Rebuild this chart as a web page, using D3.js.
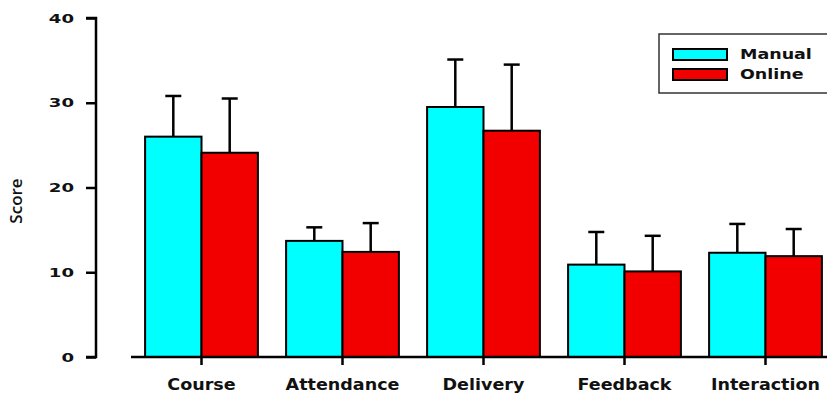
<!DOCTYPE html>
<html>
<head>
<meta charset="utf-8">
<script src="https://cdn.jsdelivr.net/npm/d3@7/dist/d3.min.js"></script>
<style>
  html, body { margin: 0; padding: 0; background: #fff; }
  svg { display: block; }
</style>
</head>
<body>
<svg id="chart" width="827" height="393"></svg>
<script>
// Mean scores and standard deviations per evaluation area
const categories = ["Course", "Attendance", "Delivery", "Feedback", "Interaction"];
const seriesNames = ["Manual", "Online"];
const manualMean = [26.0, 13.7, 29.5, 10.9, 12.3];
const manualSD   = [4.8, 1.6, 5.6, 3.85, 3.4];
const onlineMean = [24.1, 12.4, 26.7, 10.1, 11.9];
const onlineSD   = [6.4, 3.4, 7.8, 4.2, 3.2];
const yTicks = [0, 10, 20, 30, 40];
const colors = ["#00ffff", "#f20000"];

const svg = d3.select("#chart");
const tickFont = "'DejaVu Sans', Verdana, sans-serif";

const y = d3.scaleLinear().domain([0, 40]).range([357, 18]);
const x = d3.scaleBand().domain(categories).range([131, 836])
  .paddingInner(0.2).paddingOuter(0.1);
const xs = d3.scaleBand().domain(seriesNames).range([0, x.bandwidth()]);

const rows = categories.map((c, i) => ({
  cat: c,
  vals: [
    { s: "Manual", mean: manualMean[i], sd: manualSD[i] },
    { s: "Online", mean: onlineMean[i], sd: onlineSD[i] }
  ]
}));

// Y axis
const yAxis = svg.append("g").attr("transform", "translate(96,0)")
  .call(d3.axisLeft(y).tickValues(yTicks).tickSize(10).tickPadding(12));
yAxis.select(".domain").attr("stroke", "#000").attr("stroke-width", 2.5)
  .attr("d", `M-10,${y(40)}H0V${y(0)}H-10`);
yAxis.selectAll(".tick line").attr("stroke", "#000").attr("stroke-width", 2.5);
yAxis.selectAll(".tick text")
  .attr("x", 0)
  .attr("transform", "translate(-22,0) scale(1.45,1)")
  .attr("font-family", tickFont)
  .attr("font-weight", "bold").attr("font-size", 12.5).attr("fill", "#111");

svg.append("text")
  .attr("transform", "translate(22,201) rotate(-90)")
  .attr("text-anchor", "middle")
  .attr("font-family", "'Open Sans', 'Noto Sans', sans-serif")
  .attr("font-weight", 600)
  .attr("font-size", 17).attr("fill", "#111")
  .text("Score");

// Bars with error bars
const groups = svg.append("g").selectAll("g").data(rows).join("g")
  .attr("transform", d => `translate(${x(d.cat)},0)`);

groups.selectAll("line.err").data(d => d.vals).join("line")
  .attr("class", "err")
  .attr("x1", d => xs(d.s) + xs.bandwidth() / 2)
  .attr("x2", d => xs(d.s) + xs.bandwidth() / 2)
  .attr("y1", d => y(d.mean)).attr("y2", d => y(d.mean + d.sd))
  .attr("stroke", "#000").attr("stroke-width", 2.5);
groups.selectAll("line.cap").data(d => d.vals).join("line")
  .attr("class", "cap")
  .attr("x1", d => xs(d.s) + xs.bandwidth() / 2 - 8)
  .attr("x2", d => xs(d.s) + xs.bandwidth() / 2 + 8)
  .attr("y1", d => y(d.mean + d.sd)).attr("y2", d => y(d.mean + d.sd))
  .attr("stroke", "#000").attr("stroke-width", 2.5);

groups.selectAll("rect").data(d => d.vals).join("rect")
  .attr("x", d => xs(d.s)).attr("width", xs.bandwidth())
  .attr("y", d => y(d.mean)).attr("height", d => y(0) - y(d.mean))
  .attr("fill", (d, i) => colors[i])
  .attr("stroke", "#000").attr("stroke-width", 2);

// X axis
const xAxis = svg.append("g").attr("transform", `translate(0,${y(0)})`)
  .call(d3.axisBottom(x).tickSize(8).tickPadding(14));
xAxis.select(".domain").attr("stroke", "#000").attr("stroke-width", 2.5)
  .attr("d", "M131,0H836");
xAxis.selectAll(".tick line").attr("stroke", "#000").attr("stroke-width", 2.5);
xAxis.selectAll(".tick text")
  .attr("transform", "scale(1.17,1)")
  .attr("font-family", tickFont)
  .attr("font-weight", "bold").attr("font-size", 15).attr("fill", "#111");

// Legend
const legend = svg.append("g");
legend.append("rect").attr("x", 659).attr("y", 34).attr("width", 180).attr("height", 59)
  .attr("fill", "#fff").attr("stroke", "#333").attr("stroke-width", 1.5);
seriesNames.forEach((name, i) => {
  legend.append("rect").attr("x", 673).attr("y", 49 + i * 20)
    .attr("width", 54).attr("height", 11)
    .attr("fill", colors[i]).attr("stroke", "#000").attr("stroke-width", 2);
  legend.append("text")
    .attr("transform", `translate(740,${59 + i * 20}) scale(1.25,1)`)
    .attr("font-family", tickFont).attr("font-weight", "bold")
    .attr("font-size", 14).attr("fill", "#111").text(name);
});
</script>
</body>
</html>
